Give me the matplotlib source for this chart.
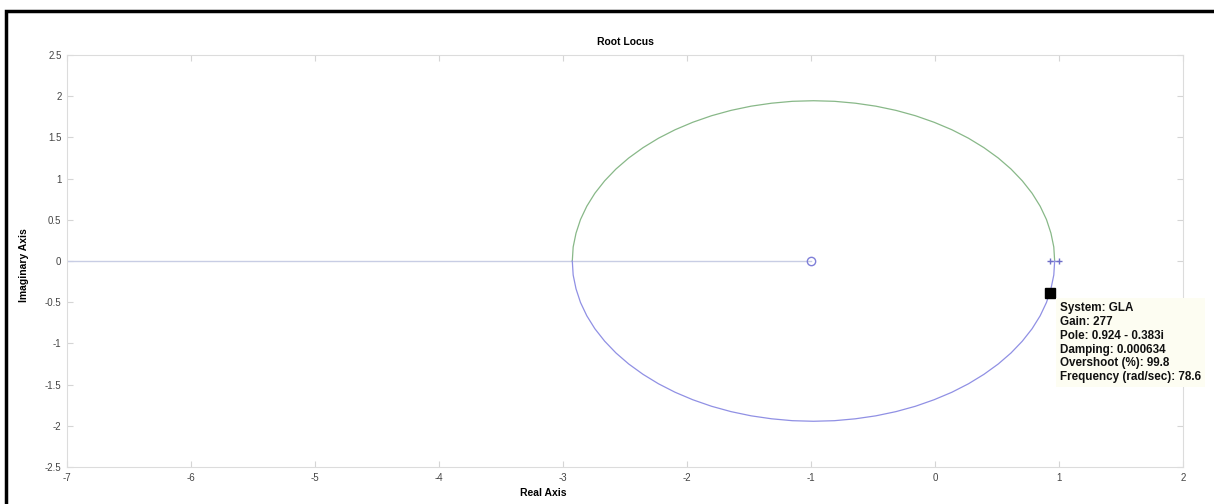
import matplotlib
matplotlib.use("Agg")
import matplotlib.pyplot as plt
from matplotlib.patches import Rectangle

# ---- data ----
zeros_re = [-1.0]
zeros_im = [0.0]
poles_re = [0.93, 1.0]
poles_im = [0.0, 0.0]

# upper branch (green) of the locus circle, from breakaway to break-in
upper_re = [0.965, 0.958, 0.935, 0.899, 0.848, 0.783, 0.704, 0.613, 0.510, 0.395,
            0.270, 0.136, -0.008, -0.158, -0.315, -0.477, -0.642, -0.811, -0.980,
            -1.150, -1.318, -1.483, -1.645, -1.802, -1.953, -2.096, -2.230, -2.355,
            -2.470, -2.573, -2.664, -2.743, -2.808, -2.859, -2.895, -2.918, -2.925]
upper_im = [0.0, 0.170, 0.338, 0.503, 0.665, 0.822, 0.973, 1.116, 1.250, 1.375,
            1.490, 1.593, 1.684, 1.763, 1.828, 1.879, 1.915, 1.938, 1.945,
            1.938, 1.915, 1.879, 1.828, 1.763, 1.684, 1.593, 1.490, 1.375,
            1.250, 1.116, 0.973, 0.822, 0.665, 0.503, 0.338, 0.170, 0.0]
# lower branch (blue)
lower_re = [0.965, 0.958, 0.935, 0.899, 0.848, 0.783, 0.704, 0.613, 0.510, 0.395,
            0.270, 0.136, -0.008, -0.158, -0.315, -0.477, -0.642, -0.811, -0.980,
            -1.150, -1.318, -1.483, -1.645, -1.802, -1.953, -2.096, -2.230, -2.355,
            -2.470, -2.573, -2.664, -2.743, -2.808, -2.859, -2.895, -2.918, -2.925]
lower_im = [0.0, -0.170, -0.338, -0.503, -0.665, -0.822, -0.973, -1.116, -1.250, -1.375,
            -1.490, -1.593, -1.684, -1.763, -1.828, -1.879, -1.915, -1.938, -1.945,
            -1.938, -1.915, -1.879, -1.828, -1.763, -1.684, -1.593, -1.490, -1.375,
            -1.250, -1.116, -0.973, -0.822, -0.665, -0.503, -0.338, -0.170, 0.0]
# real-axis segments of the locus
real_seg_re = [-7.0, -2.925, -1.0]
real_seg_im = [0.0, 0.0, 0.0]
pole_seg_re = [0.93, 0.965, 1.0]
pole_seg_im = [0.0, 0.0, 0.0]

# selected point (data tip)
sel_re = [0.924]
sel_im = [-0.383]
tip_lines = ["System: GLA", "Gain: 277", "Pole: 0.924 - 0.383i", "Damping: 0.000634",
             "Overshoot (%): 99.8", "Frequency (rad/sec): 78.6"]

xticks = [-7, -6, -5, -4, -3, -2, -1, 0, 1, 2]
yticks = [-2.5, -2, -1.5, -1, -0.5, 0, 0.5, 1, 1.5, 2, 2.5]
ytick_labels = ["-2.5", "-2", "-1.5", "-1", "-0.5", "0", "0.5", "1", "1.5", "2", "2.5"]

plt.rcParams['font.family'] = ['Liberation Sans', 'DejaVu Sans']

fig = plt.figure(figsize=(12.14, 5.04), dpi=100)
fig.patch.set_facecolor('white')
ax = fig.add_axes([67/1214, 1-467/504, (1183-67)/1214, (467-55)/504])

blue = '#9090e4'
green = '#88b888'
ax.plot(real_seg_re, real_seg_im, color='#c8cde4', lw=1.0)
ax.plot(pole_seg_re, pole_seg_im, color=blue, lw=0.9)
ax.plot(upper_re, upper_im, color=green, lw=0.9)
ax.plot(lower_re, lower_im, color=blue, lw=0.9)
ax.plot(zeros_re, zeros_im, 'o', mfc='none', mec='#7f7fd8', ms=6, mew=1.0)
ax.plot(poles_re, poles_im, '+', color='#6f6fc8', ms=5, mew=1.0)
ax.plot(sel_re, sel_im, 's', color='black', ms=7)

ax.text(1.008, -0.50, "\n".join(tip_lines), fontsize=8.4, fontweight='bold',
        ha='left', va='top', linespacing=1.2, color='#111111',
        bbox=dict(facecolor='#fdfdf2', edgecolor='none', pad=3))

ax.set_xlim(-7, 2)
ax.set_ylim(-2.5, 2.5)
ax.set_xticks(xticks)
ax.set_xticklabels([str(t) for t in xticks])
ax.set_yticks(yticks)
ax.set_yticklabels(ytick_labels)
ax.tick_params(direction='in', length=4, width=0.8, color='#d5d5d5',
               labelcolor='#444444', labelsize=7, top=True, right=True, pad=4)
for s in ax.spines.values():
    s.set_color('#dcdcdc')
    s.set_linewidth(0.8)

ax.set_title("Root Locus", fontsize=7.5, fontweight='bold', pad=7)
ax.set_xlabel("Real Axis", fontsize=7.5, fontweight='bold')
ax.xaxis.set_label_coords((543-67)/1116, -0.05)
ax.set_ylabel("Imaginary Axis", fontsize=7.5, fontweight='bold')
ax.yaxis.set_label_coords(-0.034, 0.49)

# figure window border (top and left)
fig.add_artist(Rectangle((6/1214, -0.1), 1.2, 1 - 11/504 + 0.1, transform=fig.transFigure,
                         fill=False, edgecolor='black', linewidth=2.5))

fig.savefig("out.png", dpi=100, facecolor='white')
